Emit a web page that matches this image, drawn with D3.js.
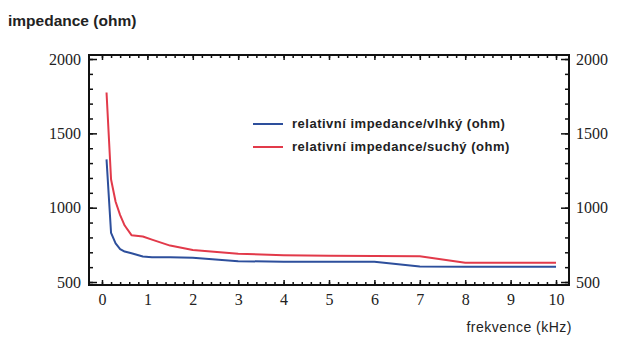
<!DOCTYPE html>
<html>
<head>
<meta charset="utf-8">
<script src="https://cdn.jsdelivr.net/npm/d3@7"></script>
<style>
  body { margin: 0; background: #fff; }
  .tick text { font-family: "Liberation Serif", "DejaVu Serif", serif; font-size: 16px; fill: #222; }
</style>
</head>
<body>
<div id="chart"></div>
<script>
// data
var freq = [0.1, 0.2, 0.3, 0.4, 0.5, 0.65, 0.9, 1.1, 1.5, 2, 3, 4, 5, 6, 7, 8, 9, 10];
var vlhky = [1325, 830, 760, 722, 705, 693, 672, 667, 666, 664, 640, 637, 637, 636, 604, 602, 602, 602];
var suchy = [1775, 1190, 1040, 950, 880, 815, 806, 785, 745, 715, 690, 680, 676, 675, 674, 630, 630, 630];
var xTicks = [0, 1, 2, 3, 4, 5, 6, 7, 8, 9, 10];
var yTicks = [500, 1000, 1500, 2000];
var seriesNames = ["relativní impedance/vlhký (ohm)", "relativní impedance/suchý (ohm)"];
var seriesColors = ["#2d4f9c", "#e23a4a"];

var W = 620, H = 343;
var pL = 89, pR = 569, pT = 55, pB = 285;

var svg = d3.select("#chart")
  .append("svg")
    .attr("width", W)
    .attr("height", H);

var x = d3.scaleLinear().domain([-0.286, 10.286]).range([pL, pR]);
var y = d3.scaleLinear().domain([480, 2027]).range([pB, pT]);

// title
svg.append("text")
  .attr("x", 8).attr("y", 26)
  .style("font-family", "Liberation Sans, Arial, sans-serif")
  .style("font-weight", "bold")
  .style("font-size", "15.5px")
  .attr("fill", "#222")
  .text("impedance (ohm)");

// axes, ticks pointing inward
function cleanup(g) { g.select(".domain").remove(); g.selectAll("line").attr("stroke", "#111").attr("stroke-width", 1.5); }

var yMinor = d3.range(500, 2001, 100);
var xMinor = d3.range(0, 51).map(function(d) { return d / 5; });

svg.append("g").attr("transform", "translate(" + pL + ",0)")
  .call(d3.axisLeft(y).tickValues(yMinor).tickFormat("").tickSize(-4)).call(cleanup);
svg.append("g").attr("transform", "translate(" + pL + ",0)")
  .call(d3.axisLeft(y).tickValues(yTicks).tickFormat(d3.format("d")).tickSize(-8).tickPadding(8)).call(cleanup);

svg.append("g").attr("transform", "translate(" + pR + ",0)")
  .call(d3.axisRight(y).tickValues(yMinor).tickFormat("").tickSize(-4)).call(cleanup);
svg.append("g").attr("transform", "translate(" + pR + ",0)")
  .call(d3.axisRight(y).tickValues(yTicks).tickFormat(d3.format("d")).tickSize(-8).tickPadding(7)).call(cleanup);

svg.append("g").attr("transform", "translate(0," + pB + ")")
  .call(d3.axisBottom(x).tickValues(xMinor).tickFormat("").tickSize(-3)).call(cleanup);
svg.append("g").attr("transform", "translate(0," + pB + ")")
  .call(d3.axisBottom(x).tickValues(xTicks).tickSize(-5).tickPadding(9)).call(cleanup);

svg.append("g").attr("transform", "translate(0," + pT + ")")
  .call(d3.axisTop(x).tickValues(xMinor).tickFormat("").tickSize(-3)).call(cleanup);
svg.append("g").attr("transform", "translate(0," + pT + ")")
  .call(d3.axisTop(x).tickValues(xTicks).tickFormat("").tickSize(-5)).call(cleanup);

// frame
svg.append("rect")
  .attr("x", pL).attr("y", pT)
  .attr("width", pR - pL).attr("height", pB - pT)
  .attr("fill", "none").attr("stroke", "#111").attr("stroke-width", 2);

// lines
var line = d3.line()
  .x(function(d) { return x(d[0]); })
  .y(function(d) { return y(d[1]); });

[vlhky, suchy].forEach(function(vals, i) {
  svg.append("path")
    .datum(d3.zip(freq, vals))
    .attr("d", line)
    .attr("fill", "none")
    .attr("stroke", seriesColors[i])
    .attr("stroke-width", 2)
    .attr("stroke-linejoin", "round");
});

// legend
seriesNames.forEach(function(name, i) {
  var ly = 124 + i * 23;
  svg.append("line")
    .attr("x1", 253).attr("x2", 283)
    .attr("y1", ly).attr("y2", ly)
    .attr("stroke", seriesColors[i]).attr("stroke-width", 2);
  svg.append("text")
    .attr("x", 292).attr("y", ly + 4)
    .style("font-family", "Liberation Sans, Arial, sans-serif")
    .style("font-weight", "bold")
    .style("font-size", "13px")
    .style("letter-spacing", "0.5px")
    .attr("fill", "#222")
    .text(name);
});

// x axis label
svg.append("text")
  .attr("x", 572).attr("y", 332)
  .attr("text-anchor", "end")
  .style("font-family", "Liberation Sans, Arial, sans-serif")
  .style("font-size", "14px")
  .style("letter-spacing", "0.5px")
  .attr("fill", "#222")
  .text("frekvence (kHz)");
</script>
</body>
</html>
